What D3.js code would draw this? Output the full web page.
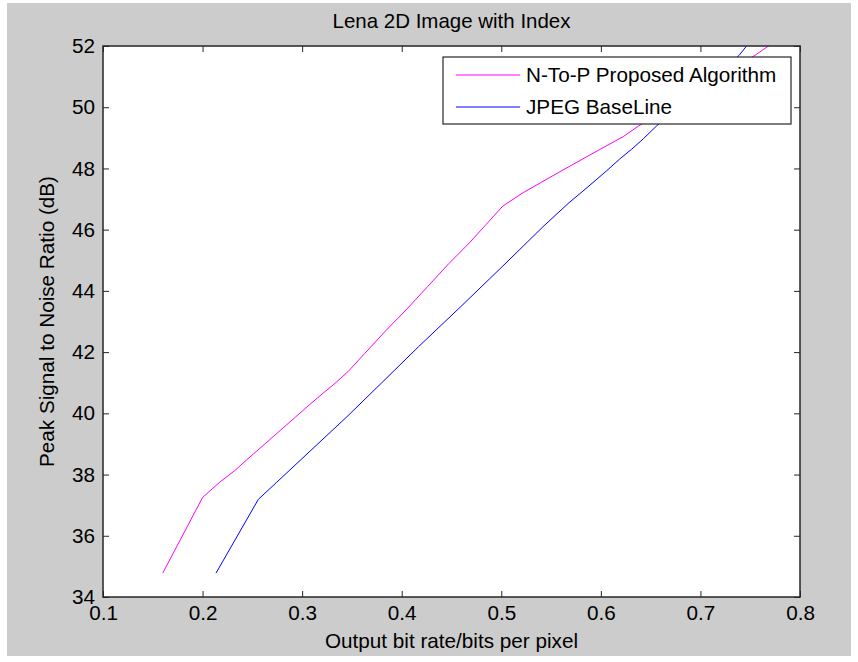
<!DOCTYPE html>
<html>
<head>
<meta charset="utf-8">
<script src="https://cdn.jsdelivr.net/npm/d3@7"></script>
<style>
  body { margin: 0; background: #fff; }
  svg text { font-family: "Liberation Sans", Arial, sans-serif; fill: #000; }
</style>
</head>
<body>
<div id="chart"></div>
<script>
// data
var proposedX = [0.160, 0.200, 0.2175, 0.232, 0.244, 0.307, 0.320, 0.333, 0.346, 0.363, 0.384, 0.405, 0.426, 0.447, 0.468, 0.5015, 0.522, 0.556, 0.589, 0.6225, 0.638, 0.755, 0.775];
var proposedY = [34.78, 37.25, 37.76, 38.12, 38.47, 40.27, 40.63, 40.98, 41.36, 41.96, 42.70, 43.40, 44.14, 44.88, 45.57, 46.77, 47.21, 47.84, 48.44, 49.04, 49.39, 51.70, 52.15];
var jpegX = [0.2135, 0.256, 0.2745, 0.345, 0.380, 0.417, 0.4585, 0.5015, 0.542, 0.568, 0.582, 0.595, 0.606, 0.619, 0.631, 0.643, 0.656, 0.739, 0.750];
var jpegY = [34.78, 37.19, 37.75, 39.89, 41.00, 42.18, 43.46, 44.81, 46.10, 46.88, 47.26, 47.62, 47.93, 48.31, 48.63, 48.98, 49.39, 51.70, 52.15];
var xTicks = [0.1, 0.2, 0.3, 0.4, 0.5, 0.6, 0.7, 0.8];
var yTicks = [34, 36, 38, 40, 42, 44, 46, 48, 50, 52];
var seriesNames = ["N-To-P Proposed Algorithm", "JPEG BaseLine"];
var seriesColors = ["#ff00ff", "#0000ff"];

var W = 858, H = 662;
var margin = {l:103, r:58, t:46, b:65};
var fs = "20.7px";

var svg = d3.select("#chart").append("svg")
	.attr("width", W).attr("height", H);

svg.append("rect").attr("x",7).attr("y",3).attr("width",844).attr("height",653)
	.style("fill","#cccccc");

var X = d3.scaleLinear().domain([0.1,0.8]).range([margin.l, W-margin.r]),
	Y = d3.scaleLinear().domain([34,52]).range([H-margin.b, margin.t]);

svg.append("rect").attr("x",X(0.1)).attr("y",Y(52))
	.attr("width",X(0.8)-X(0.1)).attr("height",Y(34)-Y(52))
	.style("fill","#fff");

svg.append("clipPath").attr("id","plotclip").append("rect")
	.attr("x",X(0.1)).attr("y",Y(52))
	.attr("width",X(0.8)-X(0.1)).attr("height",Y(34)-Y(52));

var series = [
	proposedX.map(function(d,i){ return {x:d, y:proposedY[i]}; }),
	jpegX.map(function(d,i){ return {x:d, y:jpegY[i]}; })
];

var line = d3.line().x(function(d){return X(d.x)}).y(function(d){return Y(d.y)});

svg.append("g").attr("clip-path","url(#plotclip)")
	.selectAll(".series").data(series).enter().append("path")
	.attr("class","series")
	.attr("d", line)
	.style("fill","none")
	.style("stroke", function(d,i){return seriesColors[i]})
	.style("stroke-width",1);

// axes, ticks point inward, box on all sides
var tickLen = 6;
function styleAxis(g){
	g.select(".domain").remove();
	g.selectAll(".tick line").style("stroke","#262626");
	g.selectAll(".tick text").style("font-size",fs).style("font-family","Liberation Sans, Arial, sans-serif");
}
svg.append("g").attr("transform","translate(0,"+Y(34)+")")
	.call(d3.axisBottom(X).tickValues(xTicks).tickSize(-tickLen).tickPadding(8).tickFormat(d3.format(".1f")))
	.call(styleAxis);
svg.append("g").attr("transform","translate(0,"+Y(52)+")")
	.call(d3.axisTop(X).tickValues(xTicks).tickSize(-tickLen).tickFormat(""))
	.call(styleAxis);
svg.append("g").attr("transform","translate("+X(0.1)+",0)")
	.call(d3.axisLeft(Y).tickValues(yTicks).tickSize(-tickLen).tickPadding(8).tickFormat(d3.format("d")))
	.call(styleAxis);
svg.append("g").attr("transform","translate("+X(0.8)+",0)")
	.call(d3.axisRight(Y).tickValues(yTicks).tickSize(-tickLen).tickFormat(""))
	.call(styleAxis);

svg.append("rect").attr("x",X(0.1)).attr("y",Y(52))
	.attr("width",X(0.8)-X(0.1)).attr("height",Y(34)-Y(52))
	.style("fill","none").style("stroke","#262626").style("stroke-width",1.5);

// titles
svg.append("text").attr("x",(X(0.1)+X(0.8))/2).attr("y",28)
	.attr("text-anchor","middle").style("font-size",fs)
	.attr("textLength",238).attr("lengthAdjust","spacingAndGlyphs")
	.text("Lena 2D Image with Index");
svg.append("text").attr("x",(X(0.1)+X(0.8))/2).attr("y",648)
	.attr("text-anchor","middle").style("font-size",fs)
	.text("Output bit rate/bits per pixel");
svg.append("text").attr("transform","translate(54,"+((Y(34)+Y(52))/2)+") rotate(-90)")
	.attr("text-anchor","middle").style("font-size",fs)
	.text("Peak Signal to Noise Ratio (dB)");

// legend
var lg = svg.append("g").attr("transform","translate(443,57)");
lg.append("rect").attr("width",348).attr("height",67)
	.style("fill","#fff").style("stroke","#262626").style("stroke-width",1.2);
var items = lg.selectAll(".item").data(seriesNames).enter().append("g")
	.attr("class","item")
	.attr("transform",function(d,i){return "translate(0,"+(18+i*32)+")"});
items.append("line").attr("x1",13).attr("x2",77).attr("y1",0).attr("y2",0)
	.style("stroke",function(d,i){return seriesColors[i]}).style("stroke-width",1);
items.append("text").attr("x",83).attr("y",7).style("font-size",fs).text(function(d){return d});
</script>
</body>
</html>
